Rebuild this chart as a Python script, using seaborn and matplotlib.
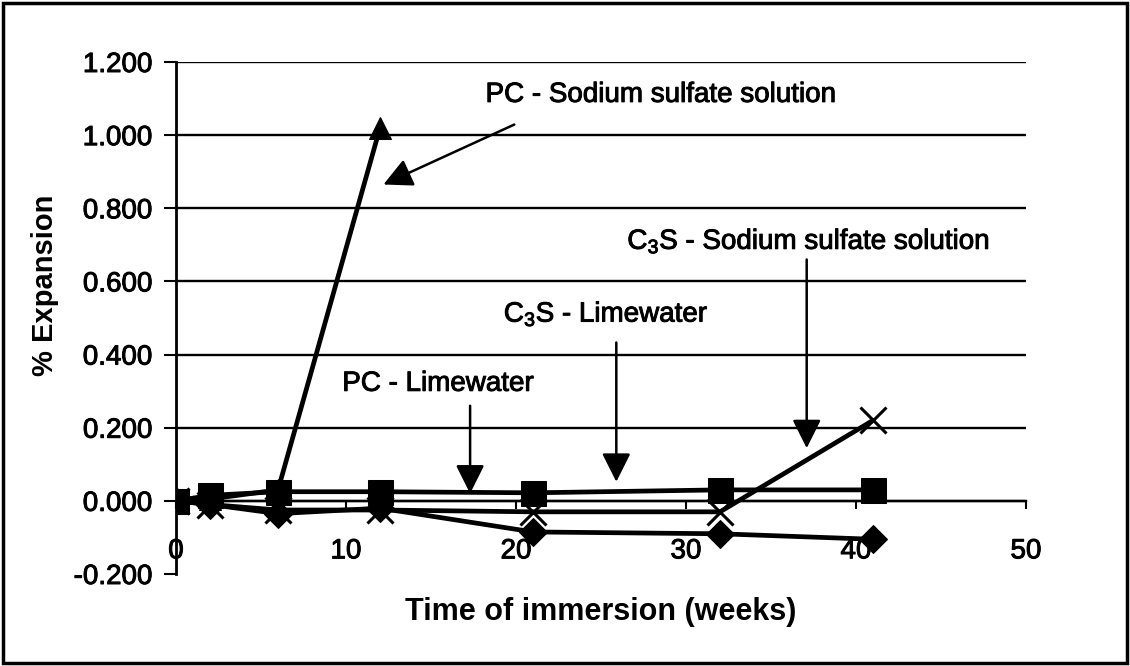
import matplotlib
matplotlib.use("Agg")
import matplotlib.pyplot as plt
import matplotlib.patheffects as pe
import seaborn as sns
from matplotlib.patches import Rectangle
from matplotlib.ticker import FormatStrFormatter

# ---- data ----
weeks_pc_ss = [0, 2, 6, 12]
pc_sodium_sulfate = [0.000, 0.005, 0.030, 1.020]

weeks = [0, 2, 6, 12, 21, 32, 41]
c3s_limewater = [0.000, 0.015, 0.025, 0.025, 0.022, 0.030, 0.030]
pc_limewater = [0.000, -0.010, -0.035, -0.020, -0.085, -0.090, -0.105]
c3s_sodium_sulfate = [0.000, -0.010, -0.025, -0.025, -0.030, -0.030, 0.220]

x_ticks = [0, 10, 20, 30, 40, 50]
y_ticks = [-0.2, 0.0, 0.2, 0.4, 0.6, 0.8, 1.0, 1.2]

sns.set_theme(style="white")
plt.rcParams["font.family"] = ["Liberation Sans", "DejaVu Sans"]
plt.rcParams["mathtext.fontset"] = "custom"
plt.rcParams["mathtext.rm"] = "Liberation Sans"
plt.rcParams["mathtext.it"] = "Liberation Sans"
for k in ["text.color", "axes.labelcolor", "xtick.color", "ytick.color"]:
    plt.rcParams[k] = "black"

thick = [pe.withStroke(linewidth=0.7, foreground="black")]

fig = plt.figure(figsize=(11.30, 6.66), dpi=100)
fig.patch.set_facecolor("white")
ax = fig.add_axes([176 / 1130, 92 / 666, 850 / 1130, 512 / 666])
ax.set_facecolor("white")

# gridlines
for yv in y_ticks[1:]:
    ax.axhline(yv, color="black", lw=1.7, zorder=1)

lw = 3.4
sns.lineplot(x=weeks, y=c3s_limewater, ax=ax, color="black", lw=lw, marker="s",
             markersize=18, markeredgecolor="black", sort=False, zorder=3)
sns.lineplot(x=weeks, y=pc_limewater, ax=ax, color="black", lw=lw, marker="D",
             markersize=14, markeredgecolor="black", sort=False, zorder=3)
sns.lineplot(x=weeks, y=c3s_sodium_sulfate, ax=ax, color="black", lw=lw, marker="x",
             markersize=19, markeredgewidth=2.2, markeredgecolor="black", sort=False, zorder=4)
sns.lineplot(x=weeks_pc_ss, y=pc_sodium_sulfate, ax=ax, color="black", lw=lw, marker="^",
             markersize=16, markeredgecolor="black", sort=False, zorder=3)

ax.set_xlim(0, 50)
ax.set_ylim(-0.2, 1.2)
ax.set_xticks(x_ticks)
ax.set_yticks(y_ticks)
ax.yaxis.set_major_formatter(FormatStrFormatter("%.3f"))

for s in ["top", "right"]:
    ax.spines[s].set_visible(False)
ax.spines["left"].set_color("black")
ax.spines["left"].set_linewidth(2.0)
ax.spines["bottom"].set_position(("data", 0))
ax.spines["bottom"].set_color("black")
ax.spines["bottom"].set_linewidth(1.7)

ax.tick_params(axis="y", direction="out", length=9, width=1.5, color="black",
               labelsize=20, pad=8, left=True, labelcolor="black")
ax.tick_params(axis="x", direction="out", length=6, width=1.5, color="black",
               labelsize=20, pad=21, bottom=True, labelcolor="black")
for lab in ax.get_xticklabels() + ax.get_yticklabels():
    lab.set_path_effects(thick)

ax.set_xlabel("")
ax.set_ylabel("")
fig.text((176 + 1026) / 2 / 1130, 1 - 612 / 666, "Time of immersion (weeks)",
         ha="center", va="center", fontsize=22, fontweight="bold", color="black")
fig.text(45 / 1130, 1 - 285 / 666, "% Expansion", rotation=90,
         ha="center", va="center", fontsize=21, fontweight="bold", color="black")

arrow = dict(arrowstyle="-|>,head_length=0.8,head_width=0.4", color="black",
             lw=1.8, mutation_scale=22, shrinkA=0, shrinkB=0)
tkw = dict(ha="center", va="center", fontsize=20, color="black", path_effects=thick)

ax.text(28.5, 1.11, "PC - Sodium sulfate solution", **tkw)
ax.annotate("", xy=(12.2, 0.865), xytext=(19.9, 1.029), arrowprops=arrow)

ax.text(37.2, 0.71, r"C$_\mathregular{3}$S - Sodium sulfate solution", **tkw)
ax.annotate("", xy=(37.1, 0.144), xytext=(37.1, 0.66), arrowprops=arrow)

ax.text(25.3, 0.511, r"C$_\mathregular{3}$S - Limewater", **tkw)
ax.annotate("", xy=(25.9, 0.052), xytext=(25.9, 0.433), arrowprops=arrow)

ax.text(15.4, 0.32, "PC - Limewater", **tkw)
ax.annotate("", xy=(17.3, 0.02), xytext=(17.3, 0.26), arrowprops=arrow)

fig.patches.append(Rectangle((0.003, 0.004), 0.994, 0.992, transform=fig.transFigure,
                             fill=False, edgecolor="black", lw=2.5))

fig.savefig("out.png", dpi=100, facecolor="white")
